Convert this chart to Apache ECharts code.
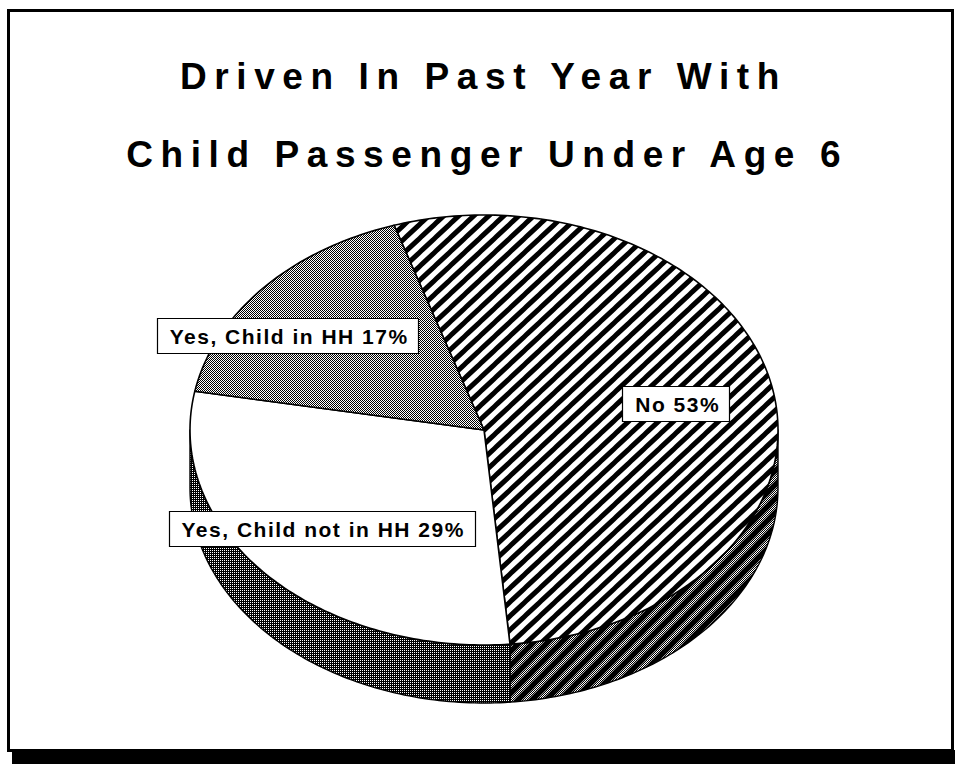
<!DOCTYPE html>
<html>
<head>
<meta charset="utf-8">
<script src="https://cdn.jsdelivr.net/npm/echarts@6/dist/echarts.min.js"></script>
<style>
  html, body { margin: 0; padding: 0; background: #fff; }
  #chart { width: 955px; height: 764px; }
  /* wide tracking used by the headline and the slice labels */
  #chart text[style*="37px"] { letter-spacing: 7.6px; }
  #chart text[style*="21px"] { letter-spacing: 1.5px; }
</style>
</head>
<body>
<div id="chart"></div>
<script>
// ---- data ----
const categories = ['No', 'Yes, Child not in HH', 'Yes, Child in HH'];
const shares = [53, 29, 17];
const titleLines = ['Driven In Past Year With', 'Child Passenger Under Age 6'];

// ---- layout ----
const PIE = { cx: 484, cy: 430, rx: 294, ry: 215, depth: 58, start: -17.8 };
// label anchor as fraction of the radii along each slice's middle angle
const labelSpot = [[0.666, 0.633], [0.748, 0.680], [0.890, 0.669]];
const TITLE_FONT = 'bold 37px "Liberation Sans"';
const TITLE_SPACING = 7.6;
const LABEL_FONT = 'bold 21px "Liberation Sans"';
const LABEL_SPACING = 1.5;

const total = shares.reduce((s, v) => s + v, 0);

// ---- fill patterns ----
function tile(w, h, draw) {
  const c = document.createElement('canvas');
  c.width = w; c.height = h;
  const g = c.getContext('2d');
  draw(g, w, h);
  return { image: c.toDataURL(), imageWidth: w, imageHeight: h, repeat: 'repeat' };
}
function slashes(g, w, h, lw) {
  g.strokeStyle = '#000';
  g.lineWidth = lw;
  g.lineCap = 'square';
  for (const x0 of [-w, 0, w]) {
    g.beginPath();
    g.moveTo(x0, h);
    g.lineTo(x0 + w, 0);
    g.stroke();
  }
}
function checker(g, w, h) {
  g.fillStyle = '#fff'; g.fillRect(0, 0, w, h);
  g.fillStyle = '#000';
  for (let y = 0; y < h; y++) for (let x = 0; x < w; x++) if ((x + y) % 2 === 0) g.fillRect(x, y, 1, 1);
}
const stripeTop = tile(15, 14, (g, w, h) => { g.fillStyle = '#fff'; g.fillRect(0, 0, w, h); slashes(g, w, h, 5); });
const stripeWall = tile(14, 14, (g, w, h) => { checker(g, w, h); slashes(g, w, h, 5.5); });
const greyDots = tile(4, 4, (g, w, h) => checker(g, w, h));
const darkDots = tile(2, 2, (g) => { g.fillStyle = '#000'; g.fillRect(0, 0, 2, 2); g.fillStyle = '#fff'; g.fillRect(0, 0, 1, 1); });

const faceFill = [stripeTop, '#ffffff', greyDots];
const wallFill = [stripeWall, darkDots, darkDots];

// ---- geometry helpers ----
function ell(deg, dz) {
  const t = deg * Math.PI / 180;
  return [PIE.cx + PIE.rx * Math.sin(t), PIE.cy - PIE.ry * Math.cos(t) + dz];
}
function sliceRange(i) {
  let a = PIE.start;
  for (let k = 0; k < i; k++) a += shares[k] / total * 360;
  return [a, a + shares[i] / total * 360];
}
function arc(a0, a1, dz) {
  const n = Math.max(2, Math.ceil(Math.abs(a1 - a0)));
  const pts = [];
  for (let k = 0; k <= n; k++) pts.push(ell(a0 + (a1 - a0) * k / n, dz));
  return pts;
}
const measureCtx = document.createElement('canvas').getContext('2d');
function spacedWidth(text, font, spacing) {
  measureCtx.font = font;
  return measureCtx.measureText(text).width + spacing * (text.length - 1);
}

// ---- render functions ----
function renderWall(params) {
  const i = params.dataIndex;
  const [a0, a1] = sliceRange(i);
  const children = [];
  for (const k of [-1, 0, 1]) {
    const s = Math.max(a0, 90 + 360 * k);
    const e = Math.min(a1, 270 + 360 * k);
    if (e > s) {
      const pts = arc(s, e, 0).concat(arc(e, s, PIE.depth));
      children.push({
        type: 'polygon',
        shape: { points: pts },
        style: { fill: wallFill[i], stroke: '#000', lineWidth: 1.4, lineJoin: 'round' }
      });
    }
  }
  return { type: 'group', children };
}

function renderFace(params) {
  const i = params.dataIndex;
  const [a0, a1] = sliceRange(i);
  const pts = [[PIE.cx, PIE.cy]].concat(arc(a0, a1, 0));
  return {
    type: 'polygon',
    shape: { points: pts },
    style: { fill: faceFill[i], stroke: '#000', lineWidth: 1.6, lineJoin: 'round' }
  };
}

function renderLabel(params, api) {
  const i = params.dataIndex;
  const [a0, a1] = sliceRange(i);
  const mid = (a0 + a1) / 2 * Math.PI / 180;
  const x = PIE.cx + PIE.rx * labelSpot[i][0] * Math.sin(mid);
  const y = PIE.cy - PIE.ry * labelSpot[i][1] * Math.cos(mid);
  const text = categories[i] + ' ' + api.value(0) + '%';
  const tw = spacedWidth(text, LABEL_FONT, LABEL_SPACING);
  const pad = 12, bh = 35;
  const bw = tw + pad * 2;
  return {
    type: 'group',
    children: [
      {
        type: 'rect',
        shape: { x: Math.round(x - bw / 2) + 0.5, y: Math.round(y - bh / 2) + 0.5, width: Math.round(bw), height: bh },
        style: { fill: '#fff', stroke: '#000', lineWidth: 1.2 }
      },
      {
        type: 'text',
        style: {
          text: text, x: x - tw / 2 + 1, y: y + 1, font: LABEL_FONT, fill: '#000',
          align: 'left', verticalAlign: 'middle', textAlign: 'left', textVerticalAlign: 'middle'
        }
      }
    ]
  };
}

// ---- chart ----
const chart = echarts.init(document.getElementById('chart'), null, { renderer: 'svg' });

const titleCenters = [[480, 76], [484, 154]];
const titleEls = titleLines.map((t, k) => {
  const w = spacedWidth(t, TITLE_FONT, TITLE_SPACING);
  return {
    type: 'text',
    z: 10,
    style: {
      text: t, x: titleCenters[k][0] - w / 2, y: titleCenters[k][1], font: TITLE_FONT, fill: '#000',
      align: 'left', verticalAlign: 'middle', textAlign: 'left', textVerticalAlign: 'middle'
    }
  };
});

chart.setOption({
  animation: false,
  backgroundColor: '#fff',
  graphic: [
    { type: 'rect', z: 0, shape: { x: 12, y: 750, width: 943, height: 14 }, style: { fill: '#000' } },
    { type: 'rect', z: 1, shape: { x: 8.5, y: 10.5, width: 944, height: 740 }, style: { fill: '#fff', stroke: '#000', lineWidth: 3 } }
  ].concat(titleEls),
  series: [
    { type: 'custom', coordinateSystem: 'none', z: 3, silent: true, data: shares, renderItem: renderWall },
    { type: 'custom', coordinateSystem: 'none', z: 4, silent: true, data: shares, renderItem: renderFace },
    { type: 'custom', coordinateSystem: 'none', z: 5, silent: true, data: shares, renderItem: renderLabel }
  ]
});
</script>
</body>
</html>
